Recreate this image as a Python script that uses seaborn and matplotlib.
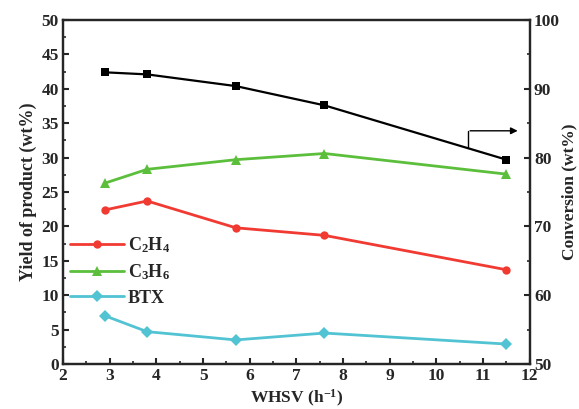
import pandas as pd
import matplotlib
matplotlib.use("Agg")
import matplotlib.pyplot as plt
import seaborn as sns
from matplotlib.ticker import MultipleLocator

# datos
whsv = [2.9, 3.8, 5.7, 7.6, 11.5]
c2h4 = [22.4, 23.7, 19.8, 18.7, 13.7]
c3h6 = [26.3, 28.3, 29.7, 30.6, 27.6]
btx = [7.0, 4.7, 3.5, 4.5, 2.9]
conversion = [92.4, 92.1, 90.4, 87.6, 79.7]

sns.set_style("ticks")
plt.rcParams['font.family'] = ['Liberation Serif', 'DejaVu Serif']
plt.rcParams['font.weight'] = 'bold'
plt.rcParams['mathtext.fontset'] = 'custom'
plt.rcParams['mathtext.rm'] = 'Liberation Serif:bold'
plt.rcParams['mathtext.it'] = 'Liberation Serif:bold'
plt.rcParams['mathtext.bf'] = 'Liberation Serif:bold'

df = pd.DataFrame({'whsv': whsv, 'c2h4': c2h4, 'c3h6': c3h6, 'btx': btx, 'conv': conversion})

fig, ax = plt.subplots(figsize=(5.79, 4.09), dpi=100)
fig.subplots_adjust(left=0.109, right=0.915, top=0.951, bottom=0.11)

sns.lineplot(data=df, x='whsv', y='c2h4', ax=ax, color='#f03a32', marker='o', markersize=6,
             markeredgewidth=0, linewidth=2, label=r'$\mathrm{C_2H_4}$')
sns.lineplot(data=df, x='whsv', y='c3h6', ax=ax, color='#5cbf3c', marker='^', markersize=7,
             markeredgewidth=0, linewidth=2, label=r'$\mathrm{C_3H_6}$')
sns.lineplot(data=df, x='whsv', y='btx', ax=ax, color='#52c3d3', marker='D', markersize=6,
             markeredgewidth=0, linewidth=2, label='BTX')

ax2 = ax.twinx()
sns.lineplot(data=df, x='whsv', y='conv', ax=ax2, color='black', marker='s', markersize=6,
             markeredgewidth=0, linewidth=1.6, legend=False)

ax.set_xlim(2, 12)
ax.set_ylim(0, 50)
ax2.set_ylim(50, 100)
ax.xaxis.set_major_locator(MultipleLocator(1))
ax.xaxis.set_minor_locator(MultipleLocator(0.5))
ax.yaxis.set_major_locator(MultipleLocator(5))
ax.yaxis.set_minor_locator(MultipleLocator(2.5))
ax2.yaxis.set_major_locator(MultipleLocator(10))
ax2.yaxis.set_minor_locator(MultipleLocator(5))

for a in (ax, ax2):
    a.tick_params(which='major', direction='in', length=4, width=1.5, labelsize=12.5, pad=3)
    a.tick_params(which='minor', direction='in', length=2.5, width=1.2)
    for s in a.spines.values():
        s.set_linewidth(1.6)
ax.tick_params(axis='y', which='both', right=False)
ax.tick_params(axis='x', which='both', top=False)
ax2.tick_params(axis='x', which='both', top=False)
for lab in ax.get_xticklabels() + ax.get_yticklabels() + ax2.get_yticklabels():
    lab.set_fontweight('bold')

ax.set_xlabel(r'WHSV (h$^{\mathrm{-1}}$)', fontsize=12.5, fontweight='bold', labelpad=3)
ax.set_ylabel('Yield of product (wt%)', fontsize=13, fontweight='bold', labelpad=3)
ax2.set_ylabel('Conversion (wt%)', fontsize=12.5, fontweight='bold', labelpad=1)

# flecha que indica el eje derecho
ax.plot([10.68, 10.68], [31.4, 33.9], color='black', linewidth=1)
ax.annotate('', xy=(11.8, 33.9), xytext=(10.66, 33.9),
            arrowprops=dict(arrowstyle='-|>', color='black', lw=1, mutation_scale=10))

leg = ax.legend(loc='center left', bbox_to_anchor=(-0.02, 0.27), frameon=False,
                fontsize=13, handlelength=3, handletextpad=0.2, labelspacing=0.4)

fig.savefig('out.png', dpi=100)
